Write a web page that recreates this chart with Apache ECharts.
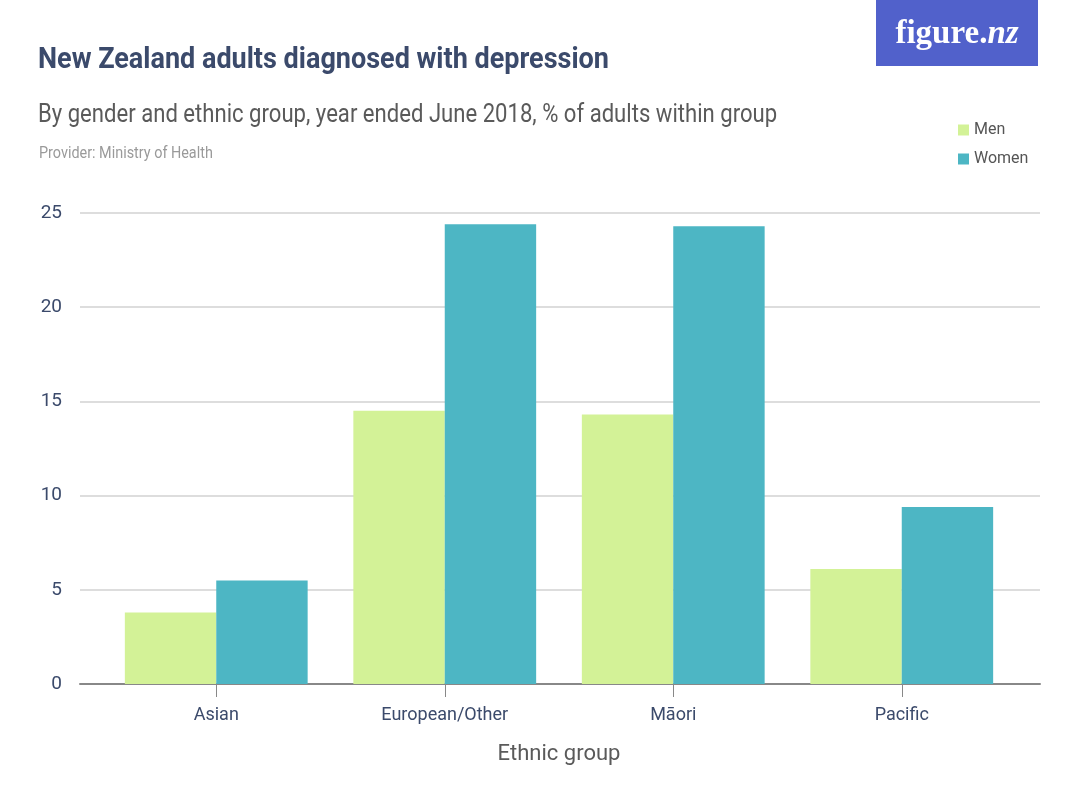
<!DOCTYPE html>
<html>
<head>
<meta charset="utf-8">
<script src="https://cdn.jsdelivr.net/npm/echarts@6/dist/echarts.min.js"></script>
<style>
  html, body { margin: 0; padding: 0; background: #fff; }
  #chart { width: 1080px; height: 809px; }
</style>
</head>
<body>
<div id="chart"></div>
<script>
const categories = ['Asian', 'European/Other', 'Māori', 'Pacific']
const menValues = [3.8, 14.5, 14.3, 6.1]
const womenValues = [5.5, 24.4, 24.3, 9.4]
const yTicks = [0, 5, 10, 15, 20, 25]

const font = 'Roboto, "Noto Sans", sans-serif'
const slate = '#3b4a6b'
const menColor = '#d3f297'
const womenColor = '#4db6c4'

const chart = echarts.init(document.getElementById('chart'))

// condensed look for heading texts: larger size squeezed horizontally
const heading = (text, x, y, size, weight, color, sx) => ({
  type: 'text',
  x: x, y: y,
  scaleX: sx,
  style: {
    text: text,
    fill: color,
    font: weight + ' ' + size + 'px ' + font,
    verticalAlign: 'top'
  }
})

const option = {
  animation: false,
  backgroundColor: '#ffffff',
  textStyle: { fontFamily: font },
  graphic: [
    heading('New Zealand adults diagnosed with depression', 38, 45, 30, 'bold', slate, 0.9),
    heading('By gender and ethnic group, year ended June 2018, % of adults within group', 38, 102, 26, 'normal', '#5a5a5a', 0.85),
    heading('Provider: Ministry of Health', 39, 146, 16, 'normal', '#9a9a9a', 0.9),
    {
      type: 'rect',
      shape: { x: 876, y: 0, width: 162, height: 66 },
      style: { fill: '#5161cb' }
    },
    {
      type: 'text',
      x: 957, y: 34,
      style: {
        text: '{a|figure.}{b|nz}',
        align: 'center',
        verticalAlign: 'middle',
        rich: {
          a: { fill: '#ffffff', font: 'bold 33px "Liberation Serif", "DejaVu Serif", serif' },
          b: { fill: '#ffffff', font: 'italic bold 33px "Liberation Serif", "DejaVu Serif", serif' }
        }
      }
    }
  ],
  legend: {
    orient: 'vertical',
    left: 953, top: 117,
    itemWidth: 11, itemHeight: 11,
    itemGap: 13,
    icon: 'rect',
    textStyle: { fontFamily: font, fontSize: 16, color: '#555555' },
    data: ['Men', 'Women']
  },
  grid: [
    { left: 80, right: 40, top: 213, bottom: 125 },
    { left: 102, right: 64, top: 213, bottom: 125 }
  ],
  xAxis: [
    {
      gridIndex: 0,
      type: 'category',
      data: [''],
      axisLine: { show: true, lineStyle: { color: '#888888', width: 2 } },
      axisTick: { show: false },
      axisLabel: { show: false }
    },
    {
      gridIndex: 1,
      type: 'category',
      data: categories,
      axisLine: { show: false },
      axisTick: { show: true, alignWithLabel: true, length: 13, lineStyle: { color: '#888888' } },
      axisLabel: { color: slate, fontSize: 18, fontFamily: font, margin: 22 },
      name: 'Ethnic group',
      nameLocation: 'middle',
      nameGap: 59,
      nameTextStyle: { color: '#5a5a5a', fontSize: 22, fontFamily: font }
    }
  ],
  yAxis: [
    {
      gridIndex: 0,
      type: 'value',
      min: yTicks[0],
      max: yTicks[yTicks.length - 1],
      interval: yTicks[1] - yTicks[0],
      axisLine: { show: false },
      axisTick: { show: false },
      axisLabel: { color: slate, fontSize: 19, fontFamily: font, margin: 18 },
      splitLine: { lineStyle: { color: '#dddddd', width: 2 } }
    },
    {
      gridIndex: 1,
      type: 'value',
      min: yTicks[0],
      max: yTicks[yTicks.length - 1],
      show: false,
      splitLine: { show: false }
    }
  ],
  series: [
    {
      name: 'Men',
      type: 'bar',
      xAxisIndex: 1,
      yAxisIndex: 1,
      data: menValues,
      barGap: '0%',
      barCategoryGap: '20%',
      itemStyle: { color: menColor }
    },
    {
      name: 'Women',
      type: 'bar',
      xAxisIndex: 1,
      yAxisIndex: 1,
      data: womenValues,
      barGap: '0%',
      barCategoryGap: '20%',
      itemStyle: { color: womenColor }
    }
  ]
}

chart.setOption(option)
</script>
</body>
</html>
